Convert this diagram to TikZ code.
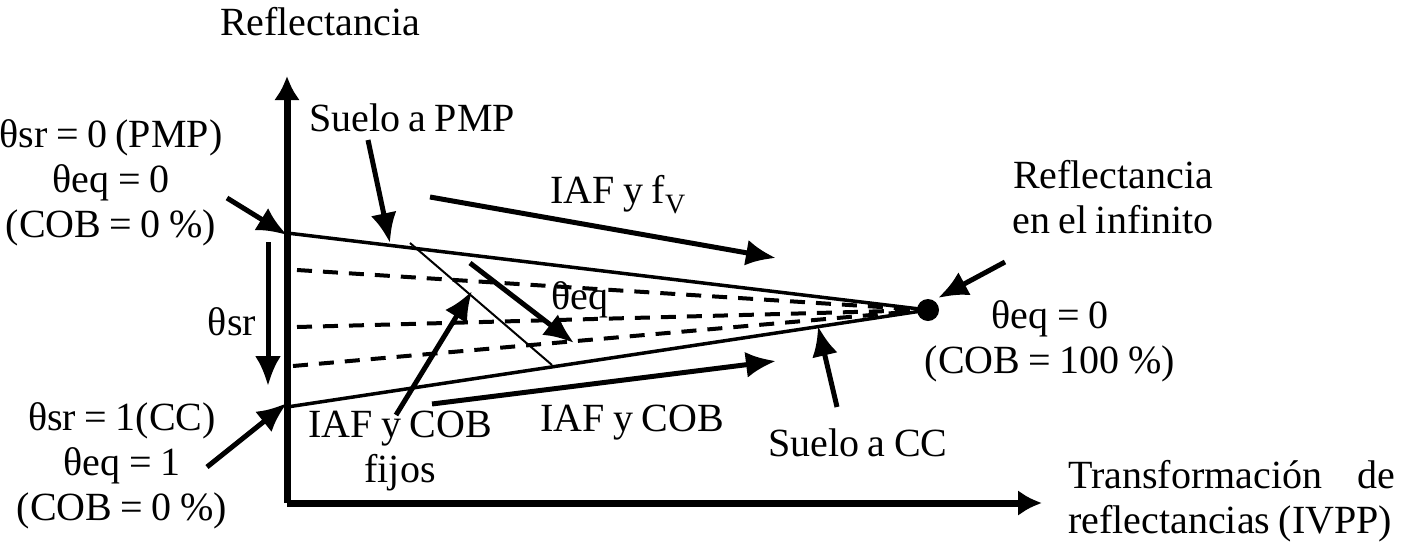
\documentclass[tikz,border=0pt]{standalone}
\usepackage{fontspec}
\setmainfont{Liberation Serif}
\usetikzlibrary{arrows.meta}
\newcommand\lblfont{\fontsize{40}{45}\selectfont\spaceskip=8.5pt plus 4pt minus 2pt\relax}
\begin{document}
\begin{tikzpicture}[x=1pt,y=-1pt,
  lbl/.style={inner sep=0pt, font=\lblfont, align=center},
  axisline/.style={line width=7pt, -{Latex[length=24pt,width=26pt]}},
  arr/.style={line width=5pt, -{Latex[length=30pt,width=26pt]}},
  solidline/.style={line width=3.5pt},
  dashline/.style={line width=4pt, dash pattern=on 15pt off 11pt},
  thinline/.style={line width=2pt}
]
\useasboundingbox (0,0) rectangle (1401,547);
% axes
\coordinate (O) at (287,503);
\coordinate (Ytop) at (287,76);
\coordinate (Xend) at (1042,503);
\draw[axisline] (O) -- (Ytop);
\draw[axisline] (O) -- (Xend);
% fan
\coordinate (P) at (928,310);
\coordinate (U) at (287,233);
\coordinate (L) at (287,407);
\coordinate (D1) at (297,270);
\coordinate (D2) at (297,327);
\coordinate (D3) at (293,366);
\draw[solidline] (U) -- (P);
\draw[solidline] (L) -- (P);
\draw[dashline] (D1) -- (P);
\draw[dashline] (D2) -- (P);
\draw[dashline] (D3) -- (P);
\node[circle, fill=black, minimum size=22pt, inner sep=0pt] (dot) at (P) {};
% thin iso line
\coordinate (T1) at (410,243);
\coordinate (T2) at (552,365);
\draw[thinline] (T1) -- (T2);
% labels
\node[lbl] (refl) at (320,22) {Reflectancia};
\node[lbl] (top) at (111,183) {θsr = 0 (PMP)\\θeq = 0\\(COB = 0 \%)};
\node[lbl] (thsr) at (232,322) {θsr};
\node[lbl] (bot) at (122,466) {θsr = 1(CC)\\θeq = 1\\(COB = 0 \%)};
\node[lbl] (pmp) at (412,118) {Suelo a PMP};
\node[lbl] (iaffv) at (618,195) {IAF y f\textsubscript{V}};
\node[lbl] (inf) at (1113,197) {Reflectancia\\en el infinito};
\node[lbl] (theq) at (580,300) {θeq};
\node[lbl] (right) at (1050,341) {θeq = 0\\(COB = 100 \%)};
\node[lbl] (fijos) at (400,451) {IAF y COB\\fijos};
\node[lbl] (iafcob) at (632,423) {IAF y COB};
\node[lbl] (cc) at (858,443) {Suelo a CC};
\node[lbl, align=left, anchor=west] (xlab) at (1068,501) {\makebox[327pt][s]{Transformación de}\\reflectancias (IVPP)};
% arrows
\coordinate (a1s) at (227,198); \coordinate (a1e) at (287,235);
\draw[arr] (a1s) -- (a1e);
\coordinate (a2s) at (207,467); \coordinate (a2e) at (287,403);
\draw[arr] (a2s) -- (a2e);
\coordinate (a3s) at (268,242); \coordinate (a3e) at (268,386);
\draw[arr] (a3s) -- (a3e);
\coordinate (a4s) at (368,140); \coordinate (a4e) at (390,243);
\draw[arr] (a4s) -- (a4e);
\coordinate (a5s) at (430,197); \coordinate (a5e) at (776,258);
\draw[arr] (a5s) -- (a5e);
\coordinate (a6s) at (470,263); \coordinate (a6e) at (574,343);
\draw[arr] (a6s) -- (a6e);
\coordinate (a7s) at (396,415); \coordinate (a7e) at (472,291);
\draw[arr] (a7s) -- (a7e);
\coordinate (a8s) at (432,404); \coordinate (a8e) at (776,361);
\draw[arr] (a8s) -- (a8e);
\coordinate (a9s) at (837,407); \coordinate (a9e) at (818,326);
\draw[arr] (a9s) -- (a9e);
\coordinate (a10s) at (1005,262); \coordinate (a10e) at (938,298);
\draw[arr] (a10s) -- (a10e);
\end{tikzpicture}
\end{document}
